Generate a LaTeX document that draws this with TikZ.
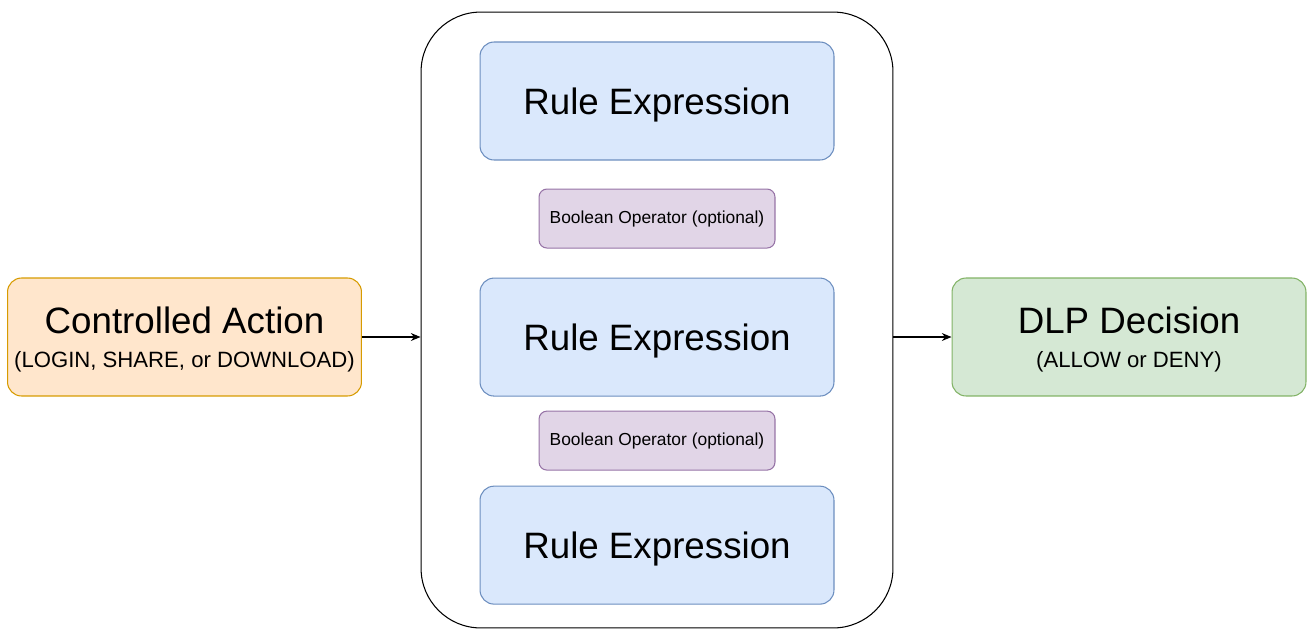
\documentclass[tikz,border=0pt]{standalone}
\usepackage{fontspec}
\setmainfont{Liberation Sans}
\usepackage{xcolor}
\usepackage{tikz}
\usetikzlibrary{arrows.meta,positioning}

\definecolor{ruleFill}{HTML}{DAE8FC}
\definecolor{ruleLine}{HTML}{6C8EBF}
\definecolor{opFill}{HTML}{E1D5E7}
\definecolor{opLine}{HTML}{9673A6}
\definecolor{actFill}{HTML}{FFE6CC}
\definecolor{actLine}{HTML}{D79B00}
\definecolor{decFill}{HTML}{D5E8D4}
\definecolor{decLine}{HTML}{82B366}

\begin{document}
\begin{tikzpicture}[
  x=0.02cm, y=-0.02cm,
  big/.style={rectangle, draw, rounded corners=8pt,
    minimum width=7.08cm, minimum height=2.36cm, text depth=0pt,
    align=center, font=\fontsize{20.9}{24}\selectfont, line width=0.6pt},
  rulebox/.style={big, fill=ruleFill, draw=ruleLine},
  opbox/.style={rectangle, draw=opLine, fill=opFill, rounded corners=4.5pt,
    minimum width=4.72cm, minimum height=1.18cm,
    font=\fontsize{9.9}{12}\selectfont, line width=0.6pt},
  arr/.style={-{Stealth[length=5.5pt,width=4.5pt]}, line width=0.6pt}
]
\useasboundingbox (0,0) rectangle (1307,629);
\node[draw, line width=0.6pt, rounded corners=34pt,
  minimum width=9.44cm, minimum height=12.32cm] (group) at (657,320) {};
\node[rulebox] (R1) at (657,101) {Rule Expression};
\node[opbox, below=0.56cm of R1] (O1) {Boolean Operator (optional)};
\node[rulebox, below=0.58cm of O1] (R2) {Rule Expression};
\node[opbox, below=0.28cm of R2] (O2) {Boolean Operator (optional)};
\node[rulebox, below=0.3cm of O2] (R3) {Rule Expression};
\node[big, fill=actFill, draw=actLine] (action) at (184.5,337)
  {Controlled Action\\[-5pt]{\fontsize{12.6}{15}\selectfont(LOGIN, SHARE, or DOWNLOAD)}};
\node[big, fill=decFill, draw=decLine] (decision) at (1129,337)
  {DLP Decision\\[-5pt]{\fontsize{12.6}{15}\selectfont(ALLOW or DENY)}};
\draw[arr] (action.east) -- (action.east -| group.west);
\draw[arr] (group.east |- decision.west) -- (decision.west);
\end{tikzpicture}
\end{document}
